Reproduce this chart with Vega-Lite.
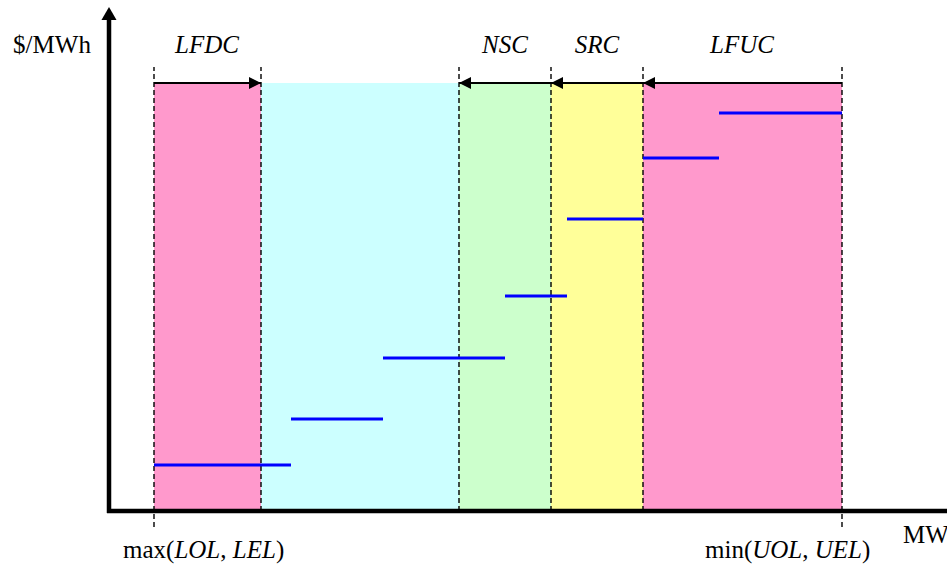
{
  "$schema": "https://vega.github.io/schema/vega-lite/v6.json",
  "width": 947,
  "height": 565,
  "autosize": {"type": "none"},
  "padding": 0,
  "background": "white",
  "config": {"view": {"stroke": null}, "axis": {"disable": true}},
  "datasets": {
    "zones": [
      {"mw0": 45, "mw1": 152, "p0": 0, "p1": 428, "zone": "LFDC"},
      {"mw0": 152, "mw1": 350, "p0": 0, "p1": 428, "zone": "dispatch"},
      {"mw0": 350, "mw1": 442, "p0": 0, "p1": 428, "zone": "NSC"},
      {"mw0": 442, "mw1": 534, "p0": 0, "p1": 428, "zone": "SRC"},
      {"mw0": 534, "mw1": 733, "p0": 0, "p1": 428, "zone": "LFUC"}
    ],
    "bounds": [
      {"mw": 45, "p0": -16, "p1": 444},
      {"mw": 152, "p0": 0, "p1": 444},
      {"mw": 350, "p0": 0, "p1": 444},
      {"mw": 442, "p0": 0, "p1": 444},
      {"mw": 534, "p0": 0, "p1": 444},
      {"mw": 733, "p0": -16, "p1": 444}
    ],
    "spans": [
      {"from": 45, "to": 152, "p": 428, "dir": "right"},
      {"from": 442, "to": 350, "p": 428, "dir": "left"},
      {"from": 534, "to": 442, "p": 428, "dir": "left"},
      {"from": 733, "to": 534, "p": 428, "dir": "left"}
    ],
    "steps": [
      {"mw0": 45, "mw1": 182, "price": 46},
      {"mw0": 182, "mw1": 274, "price": 92},
      {"mw0": 274, "mw1": 396, "price": 153},
      {"mw0": 396, "mw1": 458, "price": 215},
      {"mw0": 458, "mw1": 534, "price": 292},
      {"mw0": 534, "mw1": 610, "price": 353},
      {"mw0": 610, "mw1": 733, "price": 398}
    ],
    "axes": [
      {"mw0": 0, "p0": -2, "mw1": 0, "p1": 494},
      {"mw0": -2, "p0": 0, "mw1": 838, "p1": 0}
    ],
    "axisTip": [{"mw": 0, "p": 504, "dir": "up"}],
    "plainLabels": [
      {"mw": -57, "p": 458, "label": "$/MWh"}
    ],
    "zoneLabels": [
      {"mw": 98, "p": 458, "label": "LFDC"},
      {"mw": 396, "p": 458, "label": "NSC"},
      {"mw": 488, "p": 458, "label": "SRC"},
      {"mw": 633, "p": 458, "label": "LFUC"}
    ],
    "plainPieces": [
      {"mw": 14, "p": -47, "label": "max("},
      {"mw": 111.3, "p": -47, "label": ","},
      {"mw": 166.9, "p": -47, "label": ")"},
      {"mw": 596, "p": -47, "label": "min("},
      {"mw": 693.2, "p": -47, "label": ","},
      {"mw": 752.9, "p": -47, "label": ")"},
      {"mw": 794, "p": -32, "label": "MW"}
    ],
    "italicPieces": [
      {"mw": 65.4, "p": -47, "label": "LOL"},
      {"mw": 123.8, "p": -47, "label": "LEL"},
      {"mw": 643.2, "p": -47, "label": "UOL"},
      {"mw": 705.7, "p": -47, "label": "UEL"}
    ]
  },
  "layer": [
    {
      "data": {"name": "zones"},
      "mark": {"type": "rect"},
      "encoding": {
        "x": {"field": "mw0", "type": "quantitative", "scale": {"domain": [-109, 838], "nice": false, "zero": false}},
        "x2": {"field": "mw1"},
        "y": {"field": "p0", "type": "quantitative", "scale": {"domain": [-54, 511], "nice": false, "zero": false}},
        "y2": {"field": "p1"},
        "color": {"field": "zone", "type": "nominal", "legend": null,
          "scale": {"domain": ["LFDC", "dispatch", "NSC", "SRC", "LFUC"], "range": ["#FF99CC", "#CCFFFF", "#CCFFCC", "#FFFF99", "#FF99CC"]}}
      }
    },
    {
      "data": {"name": "bounds"},
      "mark": {"type": "rule", "color": "black", "strokeWidth": 1.4, "strokeDash": [5, 3]},
      "encoding": {
        "x": {"field": "mw", "type": "quantitative"},
        "y": {"field": "p0", "type": "quantitative"},
        "y2": {"field": "p1"}
      }
    },
    {
      "data": {"name": "steps"},
      "mark": {"type": "rule", "color": "#0000FF", "strokeWidth": 3},
      "encoding": {
        "x": {"field": "mw0", "type": "quantitative"},
        "x2": {"field": "mw1"},
        "y": {"field": "price", "type": "quantitative"}
      }
    },
    {
      "data": {"name": "spans"},
      "mark": {"type": "rule", "color": "black", "strokeWidth": 2.2},
      "encoding": {
        "x": {"field": "from", "type": "quantitative"},
        "x2": {"field": "to"},
        "y": {"field": "p", "type": "quantitative"}
      }
    },
    {
      "data": {"name": "spans"},
      "mark": {"type": "point", "filled": true, "color": "black", "opacity": 1, "size": 576, "strokeWidth": 0},
      "encoding": {
        "x": {"field": "to", "type": "quantitative"},
        "y": {"field": "p", "type": "quantitative"},
        "shape": {"field": "dir", "type": "nominal", "legend": null,
          "scale": {"domain": ["right", "left", "up"], "range": ["M0,0L-1,-0.5L-1,0.5Z", "M0,0L1,-0.5L1,0.5Z", "M0,0L-0.58,1L0.58,1Z"]}}
      }
    },
    {
      "data": {"name": "axes"},
      "mark": {"type": "rule", "color": "black", "strokeWidth": 4.5},
      "encoding": {
        "x": {"field": "mw0", "type": "quantitative"},
        "x2": {"field": "mw1"},
        "y": {"field": "p0", "type": "quantitative"},
        "y2": {"field": "p1"}
      }
    },
    {
      "data": {"name": "axisTip"},
      "mark": {"type": "point", "filled": true, "color": "black", "opacity": 1, "size": 676, "strokeWidth": 0},
      "encoding": {
        "x": {"field": "mw", "type": "quantitative"},
        "y": {"field": "p", "type": "quantitative"},
        "shape": {"field": "dir", "type": "nominal", "legend": null}
      }
    },
    {
      "data": {"name": "plainLabels"},
      "mark": {"type": "text", "font": "Liberation Serif", "fontSize": 25, "align": "center", "baseline": "alphabetic", "color": "black"},
      "encoding": {
        "x": {"field": "mw", "type": "quantitative"},
        "y": {"field": "p", "type": "quantitative"},
        "text": {"field": "label"}
      }
    },
    {
      "data": {"name": "zoneLabels"},
      "mark": {"type": "text", "font": "Liberation Serif", "fontSize": 25, "fontStyle": "italic", "align": "center", "baseline": "alphabetic", "color": "black"},
      "encoding": {
        "x": {"field": "mw", "type": "quantitative"},
        "y": {"field": "p", "type": "quantitative"},
        "text": {"field": "label"}
      }
    },
    {
      "data": {"name": "plainPieces"},
      "mark": {"type": "text", "font": "Liberation Serif", "fontSize": 25, "align": "left", "baseline": "alphabetic", "color": "black"},
      "encoding": {
        "x": {"field": "mw", "type": "quantitative"},
        "y": {"field": "p", "type": "quantitative"},
        "text": {"field": "label"}
      }
    },
    {
      "data": {"name": "italicPieces"},
      "mark": {"type": "text", "font": "Liberation Serif", "fontSize": 25, "fontStyle": "italic", "align": "left", "baseline": "alphabetic", "color": "black"},
      "encoding": {
        "x": {"field": "mw", "type": "quantitative"},
        "y": {"field": "p", "type": "quantitative"},
        "text": {"field": "label"}
      }
    }
  ]
}
